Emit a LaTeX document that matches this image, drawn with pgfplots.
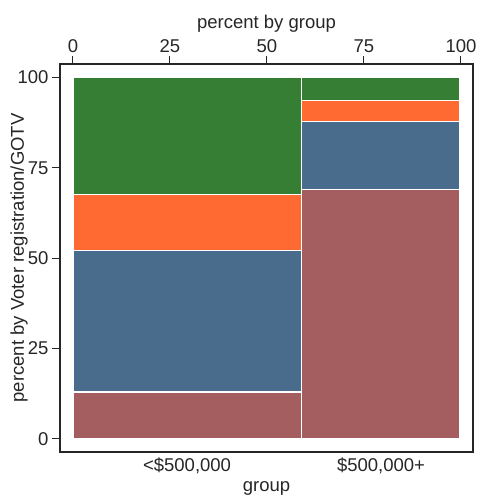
\documentclass[border=0pt]{standalone}
\usepackage{pgfplots}
\pgfplotsset{compat=1.18}
\usepackage{fontspec}
\setmainfont{Liberation Sans}
\definecolor{cgreen}{RGB}{54,126,51}
\definecolor{corange}{RGB}{255,106,51}
\definecolor{cblue}{RGB}{73,108,140}
\definecolor{cred}{RGB}{164,94,96}
\begin{document}
\begin{tikzpicture}[x=1pt,y=1pt]
\path[use as bounding box] (0,0) rectangle (477,498);
\pgfplotsset{
  every axis/.append style={
    at={(60pt,46pt)}, anchor=south west,
    scale only axis, width=413pt, height=388pt,
    xmin=-3.35, xmax=103.1, ymin=-3.6, ymax=103.7,
    /pgf/number format/assume math mode=true,
    tick label style={font=\fontsize{18.5}{22}\selectfont, text=black!85},
    label style={font=\fontsize{18.5}{22}\selectfont, text=black!85},
  }
}
\begin{axis}[
  axis line style={black!85, line width=1.2pt},
  xtick={0,25,50,75,100}, xticklabel pos=right, xtick pos=right,
  ytick={0,25,50,75,100}, ytick pos=left,
  tick align=outside, major tick length=8pt,
  tick style={black!85, line width=1pt},
  xlabel={percent by group},
  ylabel={percent by Voter registration/GOTV},
  ylabel style={at={(axis description cs:-0.0993,0.5)}, anchor=center, rotate=0},
]
% <$500,000 column
\addplot[fill=cred, draw=white, line width=1.2pt] coordinates {(0,0) (58.8,0) (58.8,13.0) (0,13.0)} -- cycle;
\addplot[fill=cblue, draw=white, line width=1.2pt] coordinates {(0,13.0) (58.8,13.0) (58.8,52.2) (0,52.2)} -- cycle;
\addplot[fill=corange, draw=white, line width=1.2pt] coordinates {(0,52.2) (58.8,52.2) (58.8,67.6) (0,67.6)} -- cycle;
\addplot[fill=cgreen, draw=white, line width=1.2pt] coordinates {(0,67.6) (58.8,67.6) (58.8,100) (0,100)} -- cycle;
% $500,000+ column
\addplot[fill=cred, draw=white, line width=1.2pt] coordinates {(58.8,0) (99.6,0) (99.6,68.9) (58.8,68.9)} -- cycle;
\addplot[fill=cblue, draw=white, line width=1.2pt] coordinates {(58.8,68.9) (99.6,68.9) (99.6,87.7) (58.8,87.7)} -- cycle;
\addplot[fill=corange, draw=white, line width=1.2pt] coordinates {(58.8,87.7) (99.6,87.7) (99.6,93.7) (58.8,93.7)} -- cycle;
\addplot[fill=cgreen, draw=white, line width=1.2pt] coordinates {(58.8,93.7) (99.6,93.7) (99.6,100) (58.8,100)} -- cycle;
\end{axis}
\begin{axis}[
  axis line style={draw=none},
  xtick={29.4,79.4}, xticklabels={{<\$500,000},{\$500,000+}},
  xtick style={draw=none}, ytick=\empty,
  xticklabel pos=left,
  xticklabel style={yshift=-2pt},
  xlabel={group},
  xlabel style={yshift=-1pt},
]
\end{axis}
\end{tikzpicture}
\end{document}
